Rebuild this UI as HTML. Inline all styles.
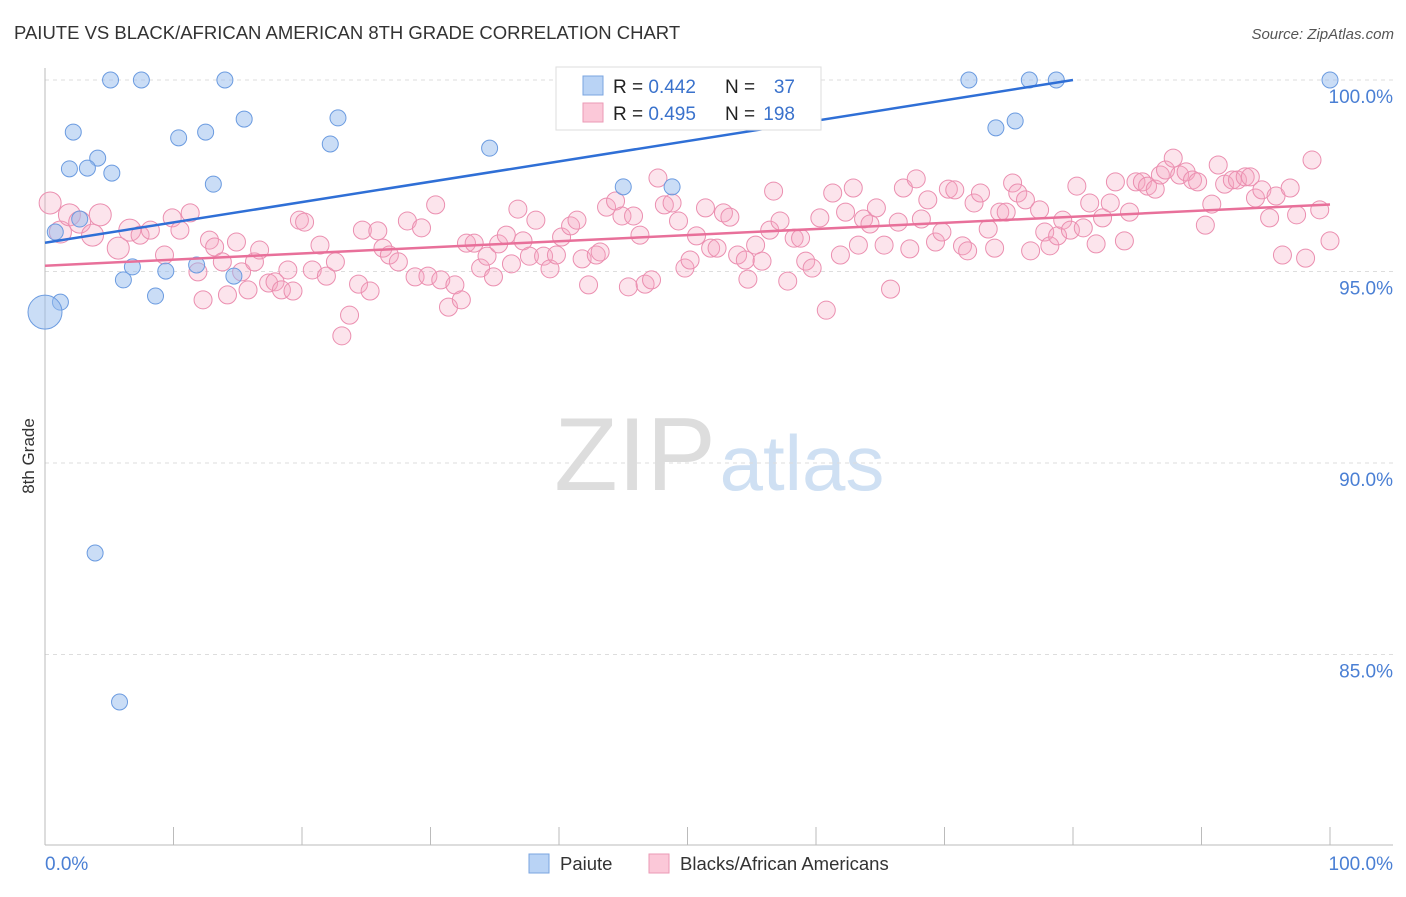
<!DOCTYPE html>
<html><head><meta charset="utf-8"><style>
body{margin:0;background:#fff;font-family:"Liberation Sans",sans-serif}
svg text{font-family:"Liberation Sans",sans-serif}
</style></head><body>
<svg id="chart" width="1406" height="892">
<text x="14" y="39" font-size="18.5" fill="#333">PAIUTE VS BLACK/AFRICAN AMERICAN 8TH GRADE CORRELATION CHART</text>
<text x="1394" y="39" font-size="15" font-style="italic" fill="#555" text-anchor="end">Source: ZipAtlas.com</text>
<g>
<text x="635" y="490" font-size="104" font-family="Liberation Serif" fill="#ddd" text-anchor="middle">ZIP</text>
<text x="802" y="490" font-size="78" fill="#cfe0f3" text-anchor="middle">atlas</text>
</g>
<g id="grid"></g>
<g id="axes"></g>
<g id="pink"></g>
<g id="blue"></g>
<g id="trends"></g>
<text transform="translate(34,456) rotate(-90)" font-size="17" fill="#333" text-anchor="middle">8th Grade</text>
<text x="45" y="870" font-size="19" fill="#4a7fd4">0.0%</text>
<text x="1393" y="870" font-size="19" fill="#4a7fd4" text-anchor="end">100.0%</text>
<g>
<rect x="556" y="67" width="265" height="63" fill="#fff" stroke="#ddd"/>
<rect x="583" y="76" width="20" height="19" fill="#b9d3f5" stroke="#7aa5e0"/>
<rect x="583" y="103" width="20" height="19" fill="#fbc8d8" stroke="#eb9ab6"/>
<text x="613" y="93" font-size="19" fill="#222">R = <tspan fill="#3a72cc">0.442</tspan></text>
<text x="725" y="93" font-size="19" fill="#222">N = </text><text x="795" y="93" font-size="19" fill="#3a72cc" text-anchor="end">37</text>
<text x="613" y="120" font-size="19" fill="#222">R = <tspan fill="#3a72cc">0.495</tspan></text>
<text x="725" y="120" font-size="19" fill="#222">N = </text><text x="795" y="120" font-size="19" fill="#3a72cc" text-anchor="end">198</text>
</g>
<g>
<rect x="529" y="854" width="20" height="19" fill="#b9d3f5" stroke="#7aa5e0"/>
<text x="560" y="870" font-size="18.5" fill="#333">Paiute</text>
<rect x="649" y="854" width="20" height="19" fill="#fbc8d8" stroke="#eb9ab6"/>
<text x="680" y="870" font-size="18.5" fill="#333">Blacks/African Americans</text>
</g>
</svg>
<script>
const yTicks=[100,95,90,85];
const yTickLabels=["100.0%","95.0%","90.0%","85.0%"];
const xTicks=[0,10,20,30,40,50,60,70,80,90,100];
const blueX=[5.1,7.5,14.0,71.9,76.6,78.7,100,2.2,10.4,12.5,15.5,22.8,22.2,34.6,4.1,1.9,3.3,5.2,13.1,74.0,75.5,45.0,48.8,0.8,2.7,6.8,9.4,11.8,6.1,14.7,8.6,1.2,0,3.9,5.8];
const blueY=[100,100,100,100,100,100,100,98.64,98.49,98.64,98.98,99.01,98.33,98.22,97.96,97.68,97.70,97.57,97.28,98.75,98.93,97.21,97.21,96.03,96.37,95.12,95.01,95.17,94.78,94.88,94.36,94.20,93.94,87.65,83.76];
const pinkX=[0.4,1.2,1.9,2.7,3.7,4.3,5.7,6.6,7.4,8.2,9.3,9.9,10.5,11.3,11.9,12.3,12.8,13.2,13.8,14.2,14.9,15.3,15.8,16.3,16.7,17.4,17.9,18.4,18.9,19.3,19.8,20.2,20.8,21.4,21.9,22.6,23.1,23.7,24.4,24.7,25.3,25.9,26.3,26.8,27.5,28.2,28.8,29.3,29.8,30.4,30.8,31.4,31.9,32.4,32.8,33.4,33.9,34.4,34.9,35.3,35.9,36.3,36.8,37.2,37.7,38.2,38.8,39.3,39.8,40.2,40.9,41.4,41.8,42.3,42.9,43.2,43.7,44.4,44.9,45.4,45.8,46.3,46.7,47.2,47.7,48.2,48.8,49.3,49.8,50.2,50.7,51.4,51.8,52.3,52.8,53.3,53.9,54.5,54.7,55.3,55.8,56.4,56.7,57.2,57.8,58.3,58.8,59.2,59.7,60.3,60.8,61.3,61.9,62.3,62.9,63.3,63.7,64.2,64.7,65.3,65.8,66.4,66.8,67.3,67.8,68.2,68.7,69.3,69.8,70.3,70.8,71.4,71.8,72.3,72.8,73.4,73.9,74.3,74.8,75.3,75.7,76.3,76.7,77.4,77.8,78.2,78.8,79.2,79.8,80.3,80.8,81.3,81.8,82.3,82.9,83.3,84.0,84.4,84.9,85.4,85.8,86.4,86.8,87.2,87.8,88.3,88.8,89.3,89.7,90.3,90.8,91.3,91.8,92.4,92.8,93.4,93.8,94.2,94.7,95.3,95.8,96.3,96.9,97.4,98.1,98.6,99.2,100];
const pinkY=[96.79,96.03,96.48,96.29,95.95,96.48,95.61,96.08,95.95,96.08,95.43,96.40,96.08,96.53,94.99,94.26,95.82,95.64,95.25,94.39,95.77,94.99,94.52,95.25,95.56,94.70,94.73,94.52,95.04,94.49,96.34,96.29,95.04,95.69,94.88,95.25,93.32,93.86,94.67,96.08,94.49,96.06,95.61,95.43,95.25,96.32,94.86,96.14,94.88,96.74,94.78,94.07,94.65,94.26,95.74,95.74,95.09,95.40,94.86,95.72,95.95,95.20,96.63,95.80,95.40,96.34,95.40,95.07,95.43,95.90,96.19,96.34,95.33,94.65,95.43,95.51,96.68,96.84,96.45,94.60,96.45,95.95,94.67,94.78,97.44,96.74,96.79,96.32,95.09,95.30,95.93,96.66,95.61,95.61,96.53,96.42,95.43,95.30,94.80,95.69,95.27,96.08,97.10,96.32,94.75,95.87,95.87,95.27,95.09,96.40,93.99,97.05,95.43,96.55,97.18,95.69,96.37,96.24,96.66,95.69,94.54,96.29,97.18,95.59,97.42,96.37,96.87,95.77,96.03,97.15,97.13,95.67,95.54,96.79,97.05,96.11,95.61,96.55,96.55,97.31,97.05,96.87,95.54,96.61,96.03,95.67,95.93,96.34,96.08,97.23,96.14,96.79,95.72,96.40,96.79,97.34,95.80,96.55,97.34,97.34,97.23,97.15,97.52,97.65,97.96,97.52,97.60,97.39,97.34,96.21,96.76,97.78,97.28,97.39,97.39,97.47,97.47,96.92,97.13,96.40,96.97,95.43,97.18,96.48,95.35,97.91,96.61,95.80];
const blueTrend=[[0,95.75],[80,100]];
const pinkTrend=[[0,95.15],[100,96.75]];
const X0=45,X1=1330,Y0=80,YS=38.3;
const sx=v=>X0+(X1-X0)*v/100;
const sy=v=>Y0+(100-v)*YS;
const NS="http://www.w3.org/2000/svg";
function mk(tag,attrs,parent){const e=document.createElementNS(NS,tag);for(const k in attrs)e.setAttribute(k,attrs[k]);document.getElementById(parent).appendChild(e);return e;}
yTicks.forEach((t,i)=>{
 const l=mk('line',{x1:45,x2:1393,y1:sy(t),y2:sy(t),stroke:'#ddd','stroke-dasharray':'4,4'},'grid');
 
 
 const tx=mk('text',{x:1393,y:sy(t)+23,'font-size':19,fill:'#4a7fd4','text-anchor':'end'},'grid');
 tx.textContent=yTickLabels[i];
 
 
});
const ax=mk('line',{x1:45,x2:1393,y1:845,y2:845,stroke:'#bbb'},'axes');


const ay=mk('line',{x1:45,x2:45,y1:68,y2:845,stroke:'#bbb'},'axes');


xTicks.forEach(t=>{
 const l=mk('line',{x1:sx(t),x2:sx(t),y1:827,y2:845,stroke:'#bbb'},'axes');
 
 
});
pinkX.forEach((x,i)=>{
 const c=mk('circle',{cx:sx(x),cy:sy(pinkY[i]),r:i<8?11:9,fill:'rgba(244,166,192,0.3)',stroke:'#eb8fb0','stroke-width':1},'pink');
 
 
});
blueX.forEach((x,i)=>{
 const c=mk('circle',{cx:sx(x),cy:sy(blueY[i]),r:i==32?17:8,fill:'rgba(150,188,238,0.5)',stroke:'#6b9be0','stroke-width':1},'blue');
 
 
});
const bt=mk('line',{x1:sx(blueTrend[0][0]),y1:sy(blueTrend[0][1]),x2:sx(blueTrend[1][0]),y2:sy(blueTrend[1][1]),stroke:'#2f6fd6','stroke-width':2.5},'trends');


const pt=mk('line',{x1:sx(pinkTrend[0][0]),y1:sy(pinkTrend[0][1]),x2:sx(pinkTrend[1][0]),y2:sy(pinkTrend[1][1]),stroke:'#e8709a','stroke-width':2.5},'trends');


</script>
</body></html>
